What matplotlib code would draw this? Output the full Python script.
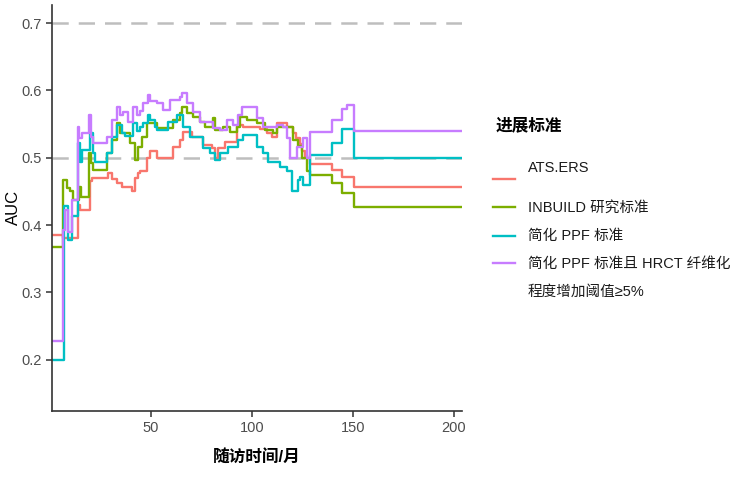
import numpy as np
import matplotlib
matplotlib.use('Agg')
from matplotlib import pyplot as plt
from matplotlib.lines import Line2D

plt.rcParams['font.family'] = ['Liberation Sans', 'Noto Sans CJK SC', 'DejaVu Sans']

# follow-up months / AUC (step curves)
ats_t = [1, 6.4, 13.9, 14.9, 19.8, 20.8, 28.7, 30.7, 33.2, 35.6, 40.6, 42.1, 43.6, 44.6, 48, 49.5,
         53, 61, 64.4, 65.8, 70.3, 75.7, 80.2, 81.7, 83.2, 86.6, 92.6, 95.5, 104, 107.4, 110,
         112.4, 117.3, 120.3, 122, 123.8, 125, 126.2, 128.7, 139.6, 144.6, 150.5, 204]
ats_v = [0.385, 0.381, 0.43, 0.423, 0.465, 0.47, 0.477, 0.468, 0.462, 0.457, 0.45, 0.47, 0.477, 0.48, 0.5, 0.51,
         0.5, 0.516, 0.527, 0.538, 0.531, 0.519, 0.515, 0.5, 0.515, 0.524, 0.549, 0.546, 0.543, 0.537, 0.531,
         0.552, 0.545, 0.537, 0.53, 0.52, 0.51, 0.5, 0.491, 0.482, 0.472, 0.457, 0.457]

inb_t = [1, 6.3, 8.4, 9.9, 11.4, 14.4, 15.3, 19.3, 20.3, 21.3, 28.2, 30.7, 33.2, 34.7, 39.6, 42.1,
         43.6, 45.5, 48, 49.5, 53, 61, 64.4, 65.3, 67.8, 70.8, 74.3, 76.7, 80.7, 81.7, 85.6, 89.1,
         92.6, 94.1, 97.5, 102.5, 106.4, 110.4, 112.4, 117.3, 120.3, 122.8, 125, 127.2, 128.7,
         139.6, 144.6, 150.5, 204]
inb_v = [0.367, 0.467, 0.455, 0.45, 0.438, 0.457, 0.442, 0.507, 0.492, 0.482, 0.507, 0.527, 0.552, 0.537, 0.522, 0.497,
         0.516, 0.531, 0.552, 0.552, 0.544, 0.556, 0.567, 0.576, 0.567, 0.561, 0.553, 0.546, 0.559, 0.541, 0.546, 0.538,
         0.546, 0.561, 0.556, 0.552, 0.541, 0.537, 0.546, 0.545, 0.527, 0.517, 0.5, 0.48, 0.475,
         0.463, 0.448, 0.427, 0.427]

ppf_t = [1, 6.9, 8.9, 10.9, 13.9, 14.9, 15.8, 19.8, 21.3, 22.3, 28.2, 30.7, 33.2, 35.6, 37.1, 41.1,
         43.1, 44.6, 46, 48.5, 49.5, 52, 53, 58.4, 62.9, 65.8, 69.3, 75.7, 79.2, 81.7, 84.2, 88.1,
         93.1, 95.5, 102.5, 105.4, 107.9, 113.9, 117.3, 119.8, 122.8, 123.8, 125.2, 128.7,
         139.6, 144.6, 150.5, 204]
ppf_v = [0.2, 0.428, 0.378, 0.413, 0.522, 0.493, 0.512, 0.537, 0.507, 0.494, 0.507, 0.531, 0.549, 0.537, 0.533, 0.552,
         0.54, 0.546, 0.552, 0.564, 0.556, 0.546, 0.541, 0.553, 0.564, 0.546, 0.531, 0.515, 0.507, 0.497, 0.507, 0.516,
         0.527, 0.534, 0.516, 0.507, 0.493, 0.487, 0.48, 0.45, 0.467, 0.472, 0.46, 0.504,
         0.522, 0.543, 0.5, 0.5]

hrct_t = [1, 6.4, 7.4, 8.9, 10.9, 13.9, 14.4, 15.8, 19.3, 20.3, 21.3, 28.2, 30.7, 33.2, 34.7, 36.1,
          38.6, 41.1, 43.1, 44.6, 46, 48.5, 49.5, 53, 56, 59.4, 64.4, 65.3, 67.8, 70.8, 74.3, 80.7,
          84.2, 87.6, 90.6, 93.1, 95, 102.5, 105.4, 112.4, 115.3, 117.3, 118.8, 122.3, 125.2, 127.2,
          128.7, 139.6, 144.6, 147, 150.5, 204]
hrct_v = [0.228, 0.393, 0.423, 0.39, 0.438, 0.546, 0.53, 0.537, 0.564, 0.531, 0.522, 0.531, 0.556, 0.576, 0.563, 0.568,
          0.553, 0.576, 0.563, 0.57, 0.581, 0.593, 0.585, 0.581, 0.571, 0.586, 0.59, 0.596, 0.581, 0.568, 0.553, 0.544,
          0.541, 0.556, 0.549, 0.564, 0.576, 0.559, 0.546, 0.549, 0.546, 0.53, 0.5, 0.516, 0.53, 0.5,
          0.538, 0.556, 0.572, 0.579, 0.54, 0.54]

labels = ['ATS.ERS', 'INBUILD 研究标准', '简化 PPF 标准', '简化 PPF 标准且 HRCT 纤维化\n程度增加阈值≥5%']
colors = ['#F8766D', '#7CAE00', '#00BFC4', '#C77CFF']
series = [(ats_t, ats_v), (inb_t, inb_v), (ppf_t, ppf_v), (hrct_t, hrct_v)]

fig = plt.figure(figsize=(7.48, 4.98), dpi=100)
ax = fig.add_axes([0.0695, 0.175, 0.548, 0.815])

for yy in [0.5, 0.7]:
    ax.axhline(yy, color='#BEBEBE', linestyle=(0, (6.5, 4)), linewidth=1.8, zorder=1)

for (t, v), c in zip(series, colors):
    ax.plot(t, v, drawstyle='steps-post', color=c, linewidth=1.7, zorder=2)

ax.set_xlim(1, 204)
ax.set_ylim(0.124, 0.727)
ax.set_xticks([50, 100, 150, 200])
ax.set_yticks([0.2, 0.3, 0.4, 0.5, 0.6, 0.7])
ax.set_yticklabels(['0.2', '0.3', '0.4', '0.5', '0.6', '0.7'])
for s in ['top', 'right']:
    ax.spines[s].set_visible(False)
for s in ['left', 'bottom']:
    ax.spines[s].set_color('#333333')
    ax.spines[s].set_linewidth(1.2)
ax.tick_params(axis='both', colors='#333333', labelcolor='#4D4D4D', labelsize=10.5, length=4, width=1.1)
ax.set_xlabel('随访时间/月', fontsize=12, fontweight='bold', labelpad=10)
ax.set_ylabel('AUC', fontsize=12, labelpad=0)

# legend drawn by hand to match ggplot layout
fig.text(496 / 748, 1 - 125 / 498, '进展标准', fontsize=12, fontweight='bold', va='center', ha='left')
key_y = [179, 207, 236, 263]
text_y = [168, 208, 236, 264]
for c, ky in zip(colors, key_y):
    fig.add_artist(Line2D([493 / 748, 515 / 748], [1 - ky / 498, 1 - ky / 498], color=c, linewidth=1.7))
for lab, ty in zip(labels, text_y):
    for i, part in enumerate(lab.split('\n')):
        fig.text(528 / 748, 1 - (ty + 28 * i) / 498, part, fontsize=10.5, va='center',
                 ha='left', color='#1A1A1A')

fig.savefig('out.png', dpi=100)
